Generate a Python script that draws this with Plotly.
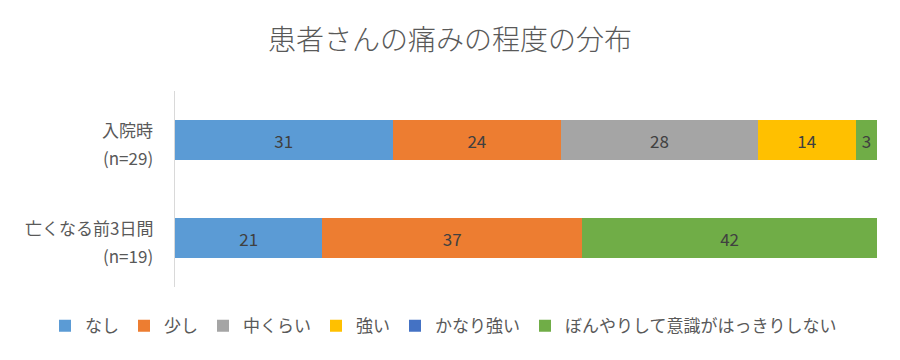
import plotly.graph_objects as go

categories = ["入院時", "亡くなる前3日間"]
n_labels = ["(n=29)", "(n=19)"]
series_names = ["なし", "少し", "中くらい", "強い", "かなり強い", "ぼんやりして意識がはっきりしない"]
series_values = [
    [31, 21],
    [24, 37],
    [28, None],
    [14, None],
    [None, None],
    [3, 42],
]
colors = ["#5B9BD5", "#ED7D31", "#A5A5A5", "#FFC000", "#4472C4", "#70AD47"]
title_text = "患者さんの痛みの程度の分布"

font_family = "Noto Sans CJK JP"
fig = go.Figure()
for name, vals, col in zip(series_names, series_values, colors):
    fig.add_trace(go.Bar(
        y=categories, x=vals, name=name, orientation="h",
        marker=dict(color=col, line=dict(width=0)),
        text=[("" if v is None else str(v)) for v in vals],
        textposition="inside", insidetextanchor="middle",
        textfont=dict(color="#404040", size=17, family=font_family),
        constraintext="none", textangle=0,
        hoverinfo="x+name",
    ))

annotations = []
for cat, nl in zip(categories, n_labels):
    annotations.append(dict(x=0, xref="paper", y=cat, yref="y", text=cat,
                            xanchor="right", yanchor="middle", showarrow=False,
                            xshift=-20, yshift=11,
                            font=dict(size=17, color="#595959", family=font_family)))
    annotations.append(dict(x=0, xref="paper", y=cat, yref="y", text=nl,
                            xanchor="right", yanchor="middle", showarrow=False,
                            xshift=-20, yshift=-17,
                            font=dict(size=17, color="#595959", family=font_family)))

fig.update_layout(
    width=900, height=360,
    barmode="stack", bargap=0.6,
    paper_bgcolor="white", plot_bgcolor="white",
    margin=dict(l=175, r=23, t=91, b=73, autoexpand=False),
    font=dict(family=font_family, color="#595959"),
    title=dict(text=title_text, x=0.5, xanchor="center", y=1 - 40 / 360, yanchor="middle",
               font=dict(size=28, color="#595959", family=font_family, weight=300)),
    xaxis=dict(range=[0, 100], showgrid=False, zeroline=False, showticklabels=False,
               showline=False, ticks=""),
    yaxis=dict(autorange="reversed", showticklabels=False, showgrid=False,
               showline=True, linecolor="#D9D9D9", linewidth=1, ticks=""),
    legend=dict(orientation="h", x=(45 - 175) / 702, xref="paper", xanchor="left",
                y=-0.2, yanchor="middle", font=dict(size=17, color="#595959", family=font_family),
                traceorder="normal", itemwidth=30, tracegroupgap=0),
    annotations=annotations,
    showlegend=True,
)
fig.write_html("out.html", config={"displayModeBar": False},
               post_script="document.body.style.margin='0';")
